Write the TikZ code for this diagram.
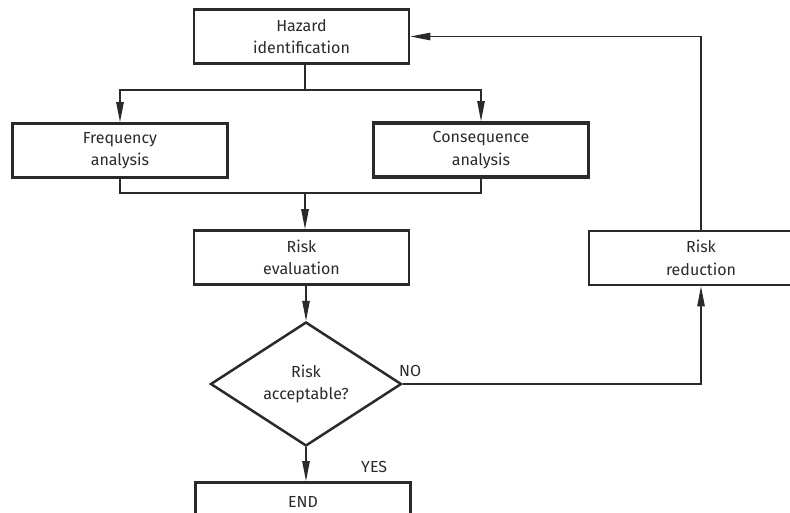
\documentclass[tikz,border=0pt]{standalone}
\usepackage{fontspec}
\setmainfont{Fira Sans}
\usetikzlibrary{arrows.meta,shapes.geometric}
\definecolor{ink}{HTML}{2A2A2A}
\tikzset{
  box/.style={draw=ink, line width=2.8pt, rectangle, minimum width=215pt, minimum height=54pt, align=center, font=\fontsize{16}{22.5}\selectfont, text=ink, inner sep=0pt},
  thickbox/.style={box, line width=3.8pt},
  decision/.style={draw=ink, line width=2.5pt, diamond, minimum width=191pt, minimum height=124pt, aspect=1.54, align=center, font=\fontsize{16}{22.5}\selectfont, text=ink, inner sep=0pt},
  conn/.style={draw=ink, line width=1.1pt},
  arr/.style={conn, -{Triangle[length=20pt,width=7.5pt]}},
  lbl/.style={font=\fontsize{16}{20}\selectfont, text=ink, inner sep=0pt}
}
\begin{document}
\begin{tikzpicture}[x=1pt,y=-1pt]
\useasboundingbox (0,0) rectangle (790,512);
\begin{scope}
\clip (0,0) rectangle (790,512);
\node[box] (haz) at (301.5,36.5) {Hazard\\identification};
\node[box] (freq) at (120,150.5) {Frequency\\analysis};
\node[thickbox] (cons) at (481,150) {Consequence\\analysis};
\node[box] (eval) at (301.5,257.5) {Risk\\evaluation};
\node[decision] (dec) at (306,384) {Risk\\acceptable?};
\node[box, minimum width=224pt] (red) at (701,258) {Risk\\reduction};
\node[box, minimum height=0pt, text height=13pt, text depth=20pt, inner ysep=12pt, anchor=north] (endb) at (303,481) {END};
\coordinate (j1) at (305,90);
\coordinate (j2) at (305,193);
\draw[conn] (haz.south -| j1) -- (j1);
\draw[arr] (j1) -| (freq.north);
\draw[arr] (j1) -| (cons.north);
\draw[conn] (freq.south) |- (j2) -| (cons.south);
\draw[arr] (j2) -- (j2 |- eval.north);
\draw[arr] (eval.south -| dec.north) -- (dec.north);
\draw[arr] (dec.south) -- (dec.south |- endb.north);
\draw[arr] (dec.east) -| (red.south);
\draw[arr] (red.north) |- (haz.east);
\node[lbl, anchor=south west] (no) at (399,377) {NO};
\node[lbl, anchor=south west] (yes) at (361,473) {YES};
\end{scope}
\end{tikzpicture}
\end{document}
